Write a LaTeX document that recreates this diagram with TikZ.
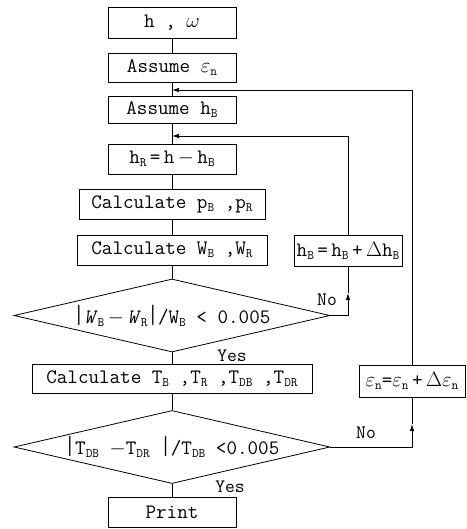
\documentclass[tikz,border=0pt]{standalone}
\usepackage{graphicx}
\usepackage{fontspec}
\setmainfont{Latin Modern Mono}
\usetikzlibrary{shapes.geometric,arrows.meta}
\newcommand\sbs[1]{\raisebox{-0.15em}{\fontsize{13}{13}\selectfont #1}}
\newcommand\tbar{\scalebox{1}[1.3]{|}}
\newcommand\eps{$\varepsilon$}
\begin{document}
\begin{tikzpicture}[x=1pt,y=-1pt,
  box/.style={draw,line width=0.8pt,inner sep=0pt,minimum height=30pt,font=\fontsize{20.5}{22}\selectfont},
  dec/.style={draw,diamond,aspect=4.3,inner sep=0pt,minimum width=316pt,minimum height=73pt,line width=0.8pt,font=\fontsize{20.5}{22}\selectfont},
  line/.style={line width=0.8pt},
  arr/.style={line width=0.8pt,-{Latex[length=7pt,width=4.5pt]}},
  lbl/.style={font=\fontsize{19}{20}\selectfont,inner sep=0pt}]
\useasboundingbox (0,0) rectangle (466,529);

\node[box,minimum width=128pt,minimum height=31pt] (n1) at (172,22.5) {h , $\omega$};
\node[box,minimum width=128pt,minimum height=29pt] (n2) at (172,67.5) {Assume \eps\sbs{n}};
\node[box,minimum width=128pt,minimum height=27pt] (n3) at (172,109.5) {Assume h\sbs{B}};
\node[box,minimum width=128pt] (n4) at (172,159) {h\sbs{R}\,=\,h\,$-$\,h\sbs{B}};
\node[box,minimum width=186pt] (n5) at (172,204) {Calculate p\sbs{B} ,p\sbs{R}};
\node[box,minimum width=190pt] (n6) at (172,250) {Calculate W\sbs{B} ,W\sbs{R}};
\node[box,minimum width=108pt,minimum height=31pt] (hb) at (348,250.5) {h\sbs{B}\,=\,h\sbs{B}\,+\,$\Delta$h\sbs{B}};
\node[dec] (d1) at (172,315.5) {\tbar\textit{W}\sbs{B}\,$-$\,\textit{W}\sbs{R}\tbar/W\sbs{B} < 0.005};
\node[box,minimum width=280pt,minimum height=29pt] (n7) at (172,378.5) {Calculate T\sbs{B} ,T\sbs{R} ,T\sbs{DB} ,T\sbs{DR}};
\node[box,minimum width=106pt,minimum height=32pt] (en) at (412,381) {\eps\sbs{n}=\eps\sbs{n}\,+\,$\Delta$\eps\sbs{n}};
\node[dec] (d2) at (172,447) {\tbar T\sbs{DB} $-$T\sbs{DR} \tbar/T\sbs{DB} <0.005};
\node[box,minimum width=128pt] (pr) at (172,512) {Print};

\node[lbl] (no1) at (327,300) {No};
\node[lbl] (yes1) at (232,356) {Yes};
\node[lbl] (no2) at (366,433) {No};
\node[lbl] (yes2) at (230,487) {Yes};

\coordinate (j1) at (172,90);
\coordinate (j2) at (172,136);
\coordinate (c1) at (348,293);
\coordinate (c2) at (412,424);

\draw[line] (n1) -- (n2);
\draw[line] (n2) -- (n3);
\draw[line] (n3) -- (n4);
\draw[line] (n4) -- (n5);
\draw[line] (n5) -- (n6);
\draw[line] (n6) -- (d1);
\draw[line] (d1) -- (n7);
\draw[line] (n7) -- (d2);
\draw[line] (d2) -- (pr);

\draw[arr] (d1.east) -| (c1);
\draw[line] (c1) -- (hb.south);
\draw[arr] (hb.north) |- (j2);
\draw[arr] (d2.east) -| (c2);
\draw[line] (c2) -- (en.south);
\draw[arr] (en.north) |- (j1);
\end{tikzpicture}
\end{document}
